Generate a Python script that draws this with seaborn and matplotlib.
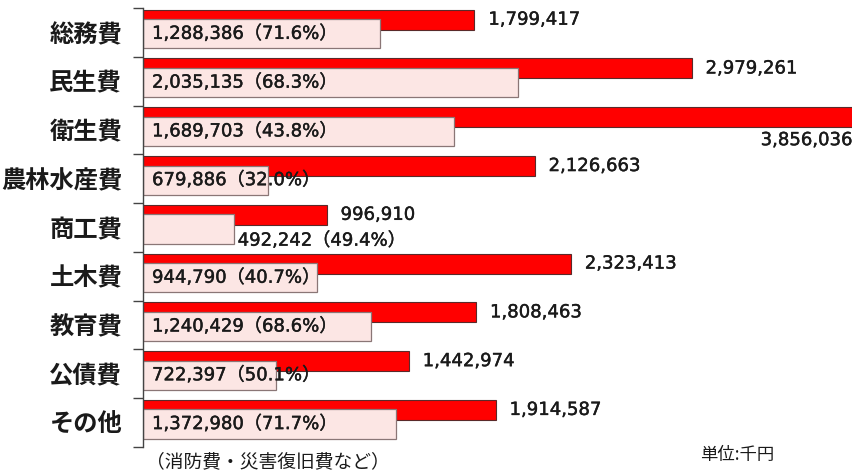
import numpy as np
import pandas as pd
import matplotlib
matplotlib.use("Agg")
import matplotlib.pyplot as plt
import matplotlib.patheffects as pe
import seaborn as sns

categories = ['総務費', '民生費', '衛生費', '農林水産費', '商工費', '土木費', '教育費', '公債費', 'その他']
totals = [1799417, 2979261, 3856036, 2126663, 996910, 2323413, 1808463, 1442974, 1914587]
parts = [1288386, 2035135, 1689703, 679886, 492242, 944790, 1240429, 722397, 1372980]
pcts = ['71.6', '68.3', '43.8', '32.0', '49.4', '40.7', '68.6', '50.1', '71.7']

sns.set_theme(style='white')
plt.rcParams['font.family'] = ['DejaVu Sans', 'Noto Sans CJK JP']

RED_OFF, RED_H = -0.26, 0.41
PINK_OFF, PINK_H = 0.03, 0.60

pos = np.arange(len(categories))
df_red = pd.DataFrame({'value': totals, 'y': pos + RED_OFF})
df_pink = pd.DataFrame({'value': parts, 'y': pos + PINK_OFF})

fig = plt.figure(figsize=(8.53, 4.71), dpi=100)
ax = fig.add_axes([143 / 853, 1 - 447 / 471, 1 - 143 / 853, (447 - 8) / 471])

sns.barplot(data=df_red, x='value', y='y', orient='h', native_scale=True,
            width=RED_H, color='#ff0000', saturation=1, edgecolor='#5a2a2a',
            linewidth=0.8, ax=ax)
sns.barplot(data=df_pink, x='value', y='y', orient='h', native_scale=True,
            width=PINK_H, color='#fce6e4', saturation=1, edgecolor='#8a7676',
            linewidth=0.9, ax=ax)

ax.set_xlim(0, 3856036)
ax.set_ylim(len(categories) - 0.5, -0.5)

stroke = [pe.withStroke(linewidth=0.3, foreground='#1a1a1a')]
num_font = dict(family=['DejaVu Sans', 'Noto Sans CJK JP'], fontsize=13,
                color='#1a1a1a', path_effects=stroke)

for i, (t, p, pc) in enumerate(zip(totals, parts, pcts)):
    if i == 2:
        ax.annotate(f'{t:,}', xy=(1, i + 0.21), xycoords=('axes fraction', 'data'),
                    xytext=(-1, 0), textcoords='offset pixels',
                    ha='right', va='center', **num_font)
    else:
        ax.annotate(f'{t:,}', xy=(t, i + RED_OFF), xytext=(14, 0),
                    textcoords='offset pixels', ha='left', va='center', **num_font)
    label = f'{p:,}（{pc}%）'
    if i == 4:
        ax.annotate(label, xy=(p, i + 0.27), xytext=(4, 0),
                    textcoords='offset pixels', ha='left', va='center', **num_font)
    else:
        ax.annotate(label, xy=(0, i + PINK_OFF), xytext=(9, 0),
                    textcoords='offset pixels', ha='left', va='center', **num_font)

ax.set_yticks(pos)
ax.set_yticklabels(categories, fontsize=17.5, fontweight='bold',
                   family=['Noto Sans CJK JP'], color='#1a1a1a')
ax.set_yticks(np.arange(len(categories) + 1) - 0.5, minor=True)
ax.tick_params(axis='y', which='major', length=0, pad=15)
ax.tick_params(axis='y', which='minor', length=7.5, width=1.0, color='#444444', direction='out', left=True)
ax.set_xticks([])
ax.set_xlabel('')
ax.set_ylabel('')
for s in ['top', 'right', 'bottom']:
    ax.spines[s].set_visible(False)
ax.spines['left'].set_color('#444444')
ax.spines['left'].set_linewidth(1.0)

fig.text(146 / 853, 1 - 462 / 471, '（消防費・災害復旧費など）', fontsize=13.5,
         family=['Noto Sans CJK JP'], ha='left', va='center', color='#1a1a1a')
fig.text(700 / 853, 1 - 455 / 471, '単位:千円', fontsize=12.5,
         family=['Noto Sans CJK JP'], ha='left', va='center', color='#1a1a1a')

fig.savefig('out.png', dpi=100, facecolor='white')
